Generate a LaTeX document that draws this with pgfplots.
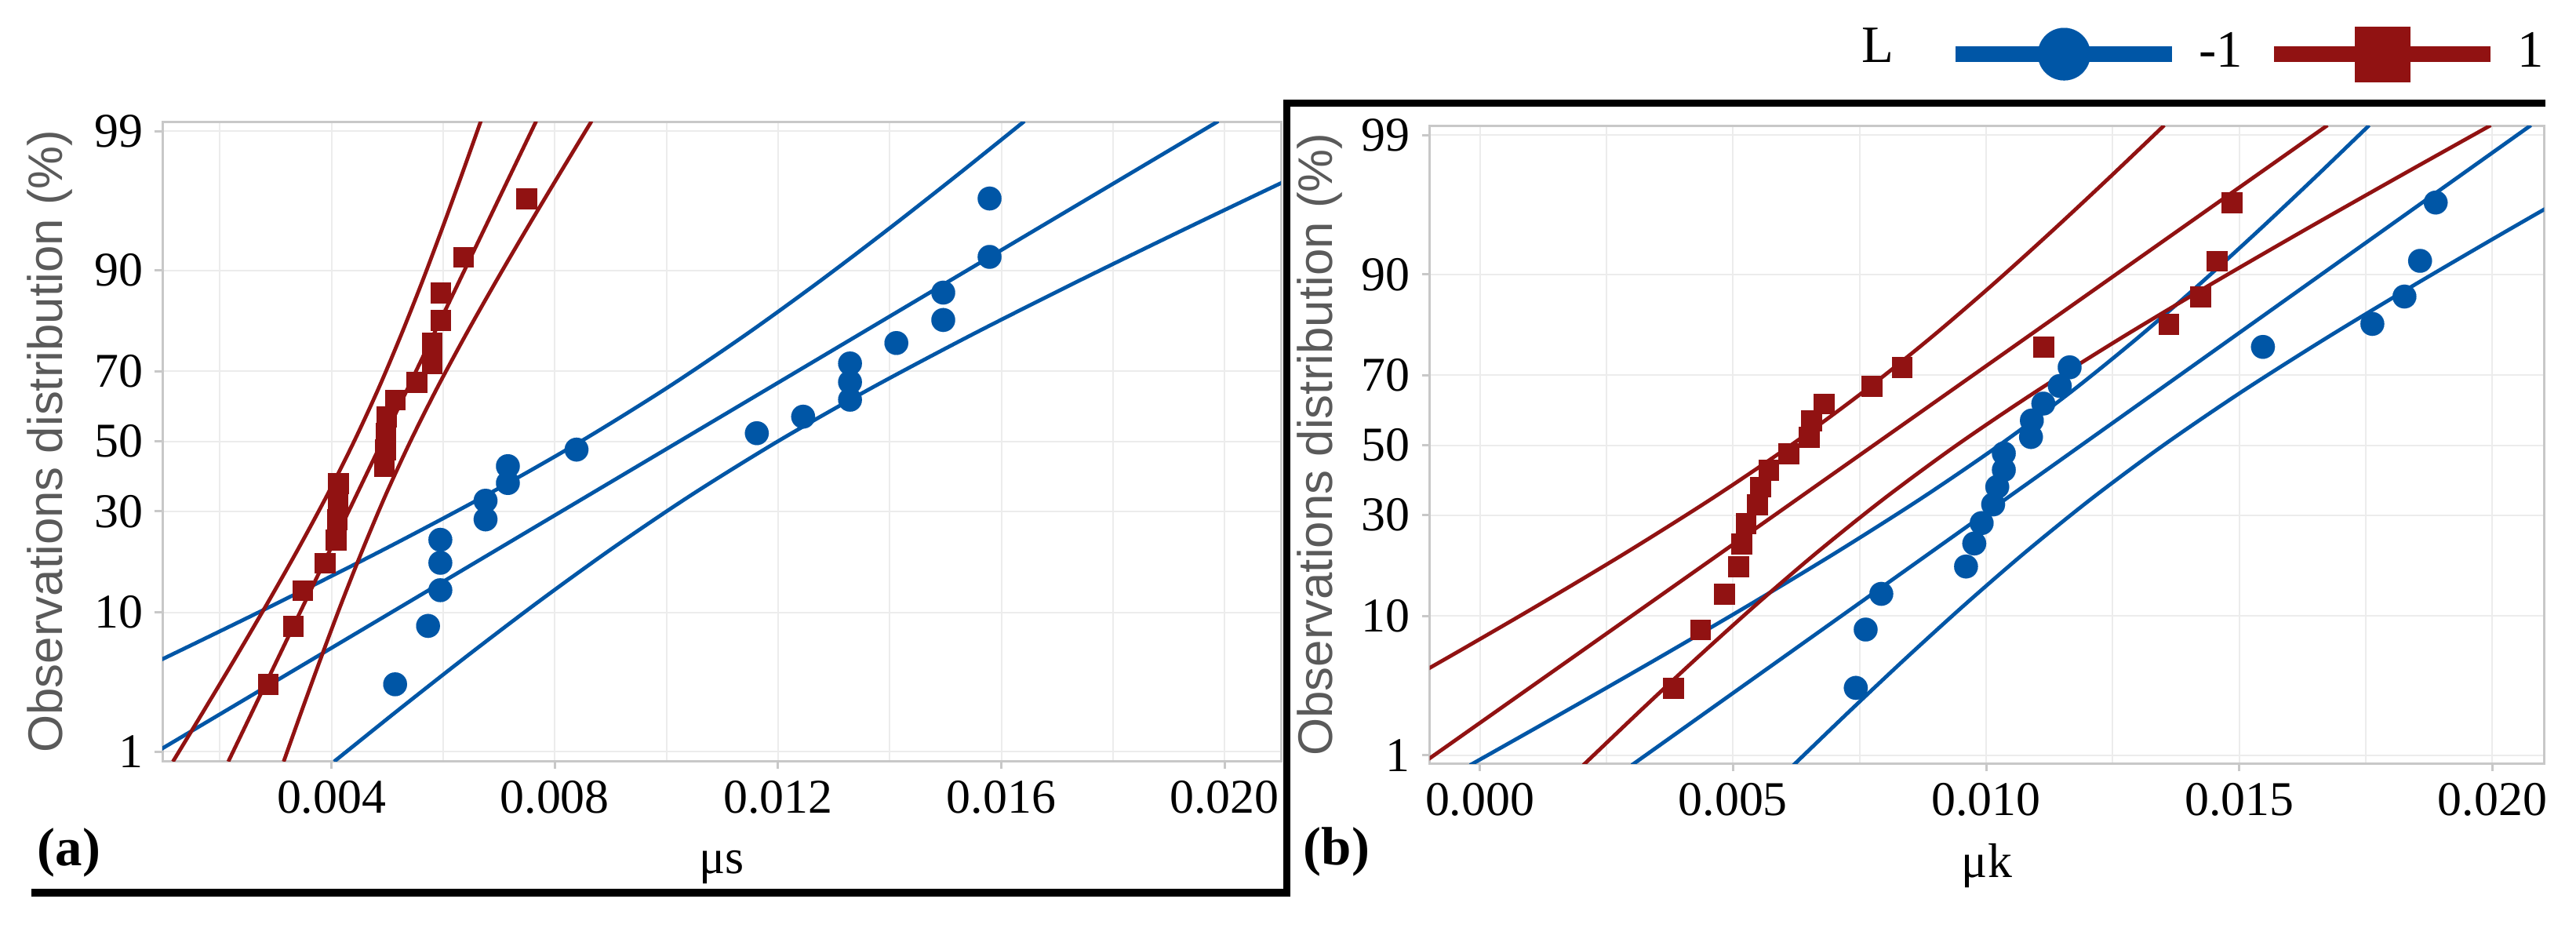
\documentclass[border=0pt]{standalone}
\usepackage{pgfplots}
\pgfplotsset{compat=1.18}
\usepackage{fontspec}
\setmainfont{Liberation Serif}
\setsansfont{Liberation Sans}

\definecolor{cblue}{RGB}{0,86,166}
\definecolor{cred}{RGB}{145,18,18}
\definecolor{framec}{RGB}{200,200,200}
\definecolor{gridc}{RGB}{236,236,236}
\definecolor{labc}{RGB}{90,90,90}

% probability scale: y is the normal quantile of the plotting position
\pgfplotsset{
  probplot/.style={
    scale only axis,
    ytick={-2.3263,-1.2816,-0.5244,0,0.5244,1.2816,2.3263},
    yticklabels={1,10,30,50,70,90,99},
    tick pos=left,
    tick align=outside,
    major tick length=0.5mm,
    minor tick length=0pt,
    scaled x ticks=false,
    grid=both,
    major grid style={draw=gridc, line width=0.1mm},
    minor grid style={draw=gridc, line width=0.1mm},
    axis line style={draw=framec, line width=0.15mm},
    tick style={draw=framec, line width=0.15mm},
    tick label style={font=\fontsize{8.8}{10}\selectfont, inner sep=0.68mm},
    ylabel={Observations distribution (\%)},
    ylabel style={font=\sffamily\fontsize{8.8}{10}\selectfont, color=labc, anchor=base},
    xlabel style={font=\fontsize{8.8}{10}\selectfont, anchor=base},
    line/.style={line width=0.24mm, no markers},
    band/.style={line width=0.24mm, no markers, smooth},
    bpts/.style={only marks, mark=*, mark size=0.76mm, cblue, mark options={line width=0.01pt, fill=cblue}},
    rpts/.style={only marks, mark=square*, mark size=0.64mm, cred, mark options={line width=0.01pt, fill=cred}},
  }
}

\begin{document}
\begin{tikzpicture}
\path (0,0) rectangle (164.2mm,-59.1mm);

% ---------- (a) static friction ----------
\begin{axis}[probplot,
  at={(10.35mm,-48.5mm)}, anchor=south west,
  width=71.3mm, height=40.75mm,
  xmin=0.00097, xmax=0.02101, ymin=-2.395, ymax=2.397,
  xtick={0.004,0.008,0.012,0.016,0.020},
  xticklabels={0.004,0.008,0.012,0.016,0.020},
  minor xtick={0.002,0.006,0.010,0.014,0.018},
  xlabel={μs},
  xlabel style={at={(axis description cs:0.5,-0.1755)}},
  ylabel style={at={(axis description cs:-0.0891,0.5)}},
]
% L = -1
\addplot[band, cblue] coordinates {(-0.002902,-2.4) (-0.000873,-2.0) (0.001129,-1.6) (0.003088,-1.2) (0.004985,-0.8) (0.006787,-0.4) (0.008466,0) (0.010007,0.4) (0.011423,0.8) (0.012746,1.2) (0.014005,1.6) (0.015223,2.0) (0.016414,2.4)};
\addplot[line, cblue] coordinates {(0.000572,-2.4) (0.019888,2.4)};
\addplot[band, cblue] coordinates {(0.004046,-2.4) (0.005237,-2.0) (0.006455,-1.6) (0.007714,-1.2) (0.009037,-0.8) (0.010453,-0.4) (0.011994,0) (0.013673,0.4) (0.015475,0.8) (0.017372,1.2) (0.019331,1.6) (0.021333,2.0) (0.023362,2.4)};
% L = 1
\addplot[band, cred] coordinates {(0.001159,-2.4) (0.001739,-2.0) (0.002311,-1.6) (0.002870,-1.2) (0.003411,-0.8) (0.003926,-0.4) (0.004405,0) (0.004846,0.4) (0.005249,0.8) (0.005628,1.2) (0.005987,1.6) (0.006335,2.0) (0.006675,2.4)};
\addplot[line, cred] coordinates {(0.002151,-2.4) (0.007667,2.4)};
\addplot[band, cred] coordinates {(0.003143,-2.4) (0.003483,-2.0) (0.003831,-1.6) (0.004190,-1.2) (0.004569,-0.8) (0.004972,-0.4) (0.005413,0) (0.005892,0.4) (0.006407,0.8) (0.006948,1.2) (0.007507,1.6) (0.008079,2.0) (0.008659,2.4)};

\addplot[bpts] coordinates {
 (0.00514,-1.8205) (0.00573,-1.3830) (0.00595,-1.1152) (0.00595,-0.9100) (0.00595,-0.7375)
 (0.00676,-0.5844) (0.00676,-0.4443) (0.00716,-0.3122) (0.00716,-0.1854) (0.00839,-0.0615)
 (0.01162,0.0615) (0.01245,0.1854) (0.01329,0.3122) (0.01329,0.4443) (0.01329,0.5844)
 (0.01412,0.7375) (0.01496,0.9100) (0.01496,1.1152) (0.01579,1.3830) (0.01579,1.8205)};
\addplot[rpts] coordinates {
 (0.00286,-1.8205) (0.00331,-1.3830) (0.00348,-1.1152) (0.00388,-0.9100) (0.00408,-0.7375)
 (0.00410,-0.5844) (0.00411,-0.4443) (0.00412,-0.3122) (0.00494,-0.1854) (0.00496,-0.0615)
 (0.00497,0.0615) (0.00498,0.1854) (0.00514,0.3122) (0.00552,0.4443) (0.00580,0.5844)
 (0.00580,0.7375) (0.00595,0.9100) (0.00595,1.1152) (0.00636,1.3830) (0.00749,1.8205)};
\end{axis}

% ---------- (b) kinetic friction ----------
\begin{axis}[probplot,
  at={(91.135mm,-48.665mm)}, anchor=south west,
  width=71.03mm, height=40.665mm,
  xmin=-0.00099, xmax=0.02102, ymin=-2.388, ymax=2.398,
  xtick={0,0.005,0.010,0.015,0.020},
  xticklabels={0.000,0.005,0.010,0.015,0.020},
  minor xtick={0.0025,0.0075,0.0125,0.0175},
  xlabel={μk},
  xlabel style={at={(axis description cs:0.5,-0.178)}},
  ylabel style={at={(axis description cs:-0.0871,0.5)}},
  legend columns=-1,
  legend style={at={(0.4641,1.1119)}, anchor=west, draw=none, fill=none,
    inner sep=0pt, font=\fontsize{9.5}{11}\selectfont,
    nodes={inner sep=0pt},
    /tikz/every odd column/.append style={column sep=1.2mm},
    /tikz/every even column/.append style={column sep=1.5mm}},
  legend image code/.code={\draw[mark repeat=2,mark phase=2,#1] plot coordinates {(0mm,0mm) (6.9mm,0mm) (13.8mm,0mm)};},
]
\addlegendimage{cblue, line width=1mm, mark=*, mark size=1.675mm, mark options={line width=0.01pt, fill=cblue}}
\addlegendentry{-1}
\addlegendimage{cred, line width=1mm, mark=square*, mark size=1.75mm, mark options={line width=0.01pt, fill=cred}}
\addlegendentry{1}

% L = -1
\addplot[band, cblue] coordinates {(-0.000194,-2.4) (0.001671,-2.0) (0.003511,-1.6) (0.005313,-1.2) (0.007057,-0.8) (0.008715,-0.4) (0.010258,0) (0.011675,0.4) (0.012977,0.8) (0.014193,1.2) (0.015351,1.6) (0.016471,2.0) (0.017566,2.4)};
\addplot[line, cblue] coordinates {(0.003000,-2.4) (0.020760,2.4)};
\addplot[band, cblue] coordinates {(0.006194,-2.4) (0.007289,-2.0) (0.008409,-1.6) (0.009567,-1.2) (0.010783,-0.8) (0.012085,-0.4) (0.013502,0) (0.015045,0.4) (0.016703,0.8) (0.018447,1.2) (0.020249,1.6) (0.022089,2.0) (0.023954,2.4)};
% L = 1
\addplot[band, cred] coordinates {(-0.004406,-2.4) (-0.002523,-2.0) (-0.000665,-1.6) (0.001153,-1.2) (0.002913,-0.8) (0.004585,-0.4) (0.006143,0) (0.007573,0.4) (0.008887,0.8) (0.010115,1.2) (0.011283,1.6) (0.012413,2.0) (0.013518,2.4)};
\addplot[line, cred] coordinates {(-0.001182,-2.4) (0.016742,2.4)};
\addplot[band, cred] coordinates {(0.002042,-2.4) (0.003147,-2.0) (0.004277,-1.6) (0.005445,-1.2) (0.006673,-0.8) (0.007987,-0.4) (0.009417,0) (0.010975,0.4) (0.012647,0.8) (0.014407,1.2) (0.016225,1.6) (0.018083,2.0) (0.019966,2.4)};

\addplot[bpts] coordinates {
 (0.007425,-1.8205) (0.007620,-1.3830) (0.007929,-1.1152) (0.009602,-0.9100) (0.009765,-0.7375)
 (0.009911,-0.5844) (0.010138,-0.4443) (0.010219,-0.3122) (0.010349,-0.1854) (0.010349,-0.0615)
 (0.010885,0.0615) (0.010902,0.1854) (0.011129,0.3122) (0.011454,0.4443) (0.011649,0.5844)
 (0.015467,0.7375) (0.017628,0.9100) (0.018262,1.1152) (0.018570,1.3830) (0.018879,1.8205)};
\addplot[rpts] coordinates {
 (0.003818,-1.8205) (0.004354,-1.3830) (0.004825,-1.1152) (0.005101,-0.9100) (0.005166,-0.7375)
 (0.005248,-0.5844) (0.005475,-0.4443) (0.005540,-0.3122) (0.005703,-0.1854) (0.006093,-0.0615)
 (0.006499,0.0615) (0.006548,0.1854) (0.006791,0.3122) (0.007734,0.4443) (0.008335,0.5844)
 (0.011129,0.7375) (0.013599,0.9100) (0.014232,1.1152) (0.014557,1.3830) (0.014850,1.8205)};
\end{axis}

% panel frame and labels
\draw[line width=0.475mm, line join=miter] (2mm,-56.9mm) -- (82.025mm,-56.9mm) -- (82.025mm,-6.575mm) -- (162.25mm,-6.575mm);
\node[font=\bfseries\fontsize{9.8}{11}\selectfont] at (4.4mm,-54.35mm) {(a)};
\node[font=\bfseries\fontsize{9.8}{11}\selectfont] at (85.2mm,-54.3mm) {(b)};
\node[font=\fontsize{9.5}{11}\selectfont, anchor=base west, inner sep=0pt] at (118.6mm,-3.95mm) {L};
\end{tikzpicture}
\end{document}
